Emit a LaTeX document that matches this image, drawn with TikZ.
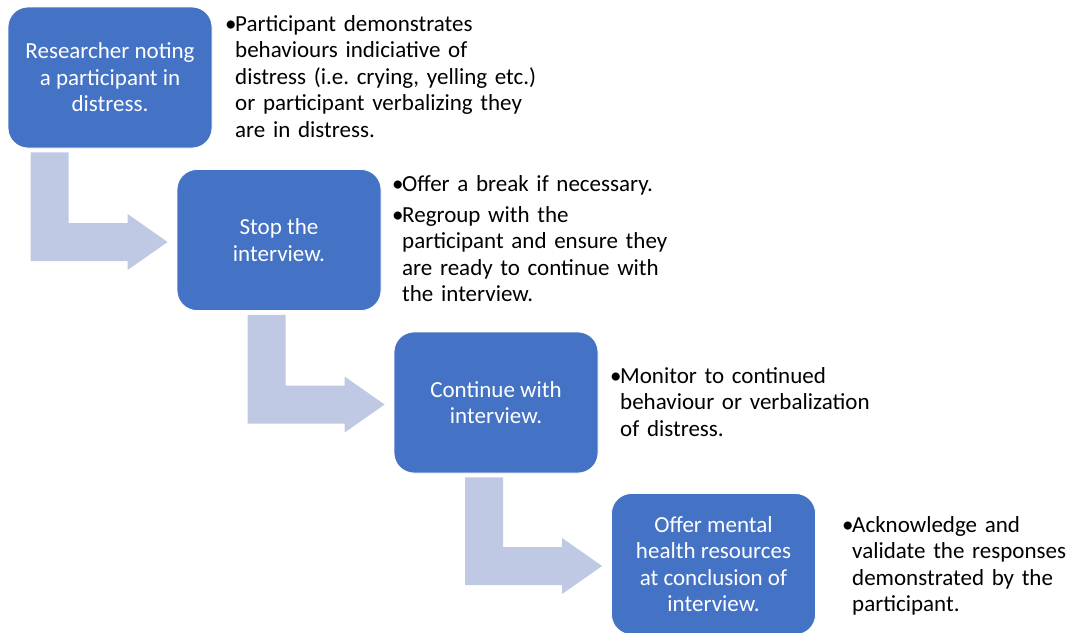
\documentclass[tikz,border=0pt]{standalone}
\usepackage{fontspec}
\setmainfont{Carlito}
\frenchspacing
\usetikzlibrary{calc}
\definecolor{boxblue}{RGB}{68,114,196}
\definecolor{arrowblue}{RGB}{191,201,228}
\begin{document}
\begin{tikzpicture}[x=1pt,y=-1pt,
  stepbox/.style={fill=boxblue, draw=white, line width=0.8pt, rounded corners=20pt,
    minimum width=204pt, minimum height=141pt, text=white, align=center,
    font=\fontsize{23}{26.5}\selectfont, inner sep=0pt},
  note/.style={anchor=base west, text width=340pt, align=left,
    font=\fontsize{23}{26.5}\selectfont, inner sep=0pt, text=black},
  bentarrow/.style={fill=arrowblue}]
\useasboundingbox (0,0) rectangle (1073,632);
\clip (0,0) rectangle (1073,632);
\node[stepbox] (b1) at (110,77.5) {Researcher noting\\a participant in\\distress.};
\node[stepbox] (b2) at (279,240) {Stop the\\interview.};
\node[stepbox] (b3) at (496,402.5) {Continue with\\interview.};
\node[stepbox] (b4) at (713.5,564) {Offer mental\\health resources\\at conclusion of\\interview.};
\foreach \a/\b in {b1/b2,b2/b3,b3/b4}{
  \fill[bentarrow] let \p2=(\a.south), \p3=(\b.west) in
    (\x3-146pt,\y2-4pt) -- (\x3-108pt,\y2-4pt) -- (\x3-108pt,\y3+17pt)
    -- (\x3-49pt,\y3+17pt) -- (\x3-49pt,\y3+26pt) -- (\x3-9pt,\y3-2pt)
    -- (\x3-49pt,\y3-30pt) -- (\x3-49pt,\y3-21pt) -- (\x3-146pt,\y3-21pt) -- cycle;
}
\node[note] (n1) at (225,31) {\makebox[10pt][l]{•}Participant demonstrates\\
  \hspace*{10pt}behaviours indiciative of\\
  \hspace*{10pt}distress (i.e. crying, yelling etc.)\\
  \hspace*{10pt}or participant verbalizing they\\
  \hspace*{10pt}are in distress.};
\node[note] (n2) at (392,191) {\makebox[10pt][l]{•}Offer a break if necessary.\\[4.5pt]
  \makebox[10pt][l]{•}Regroup with the\\
  \hspace*{10pt}participant and ensure they\\
  \hspace*{10pt}are ready to continue with\\
  \hspace*{10pt}the interview.};
\node[note] (n3) at (610,383) {\makebox[10pt][l]{•}Monitor to continued\\
  \hspace*{10pt}behaviour or verbalization\\
  \hspace*{10pt}of distress.};
\node[note] (n4) at (842,532) {\makebox[10pt][l]{•}Acknowledge and\\
  \hspace*{10pt}validate the responses\\
  \hspace*{10pt}demonstrated by the\\
  \hspace*{10pt}participant.};
\end{tikzpicture}
\end{document}
